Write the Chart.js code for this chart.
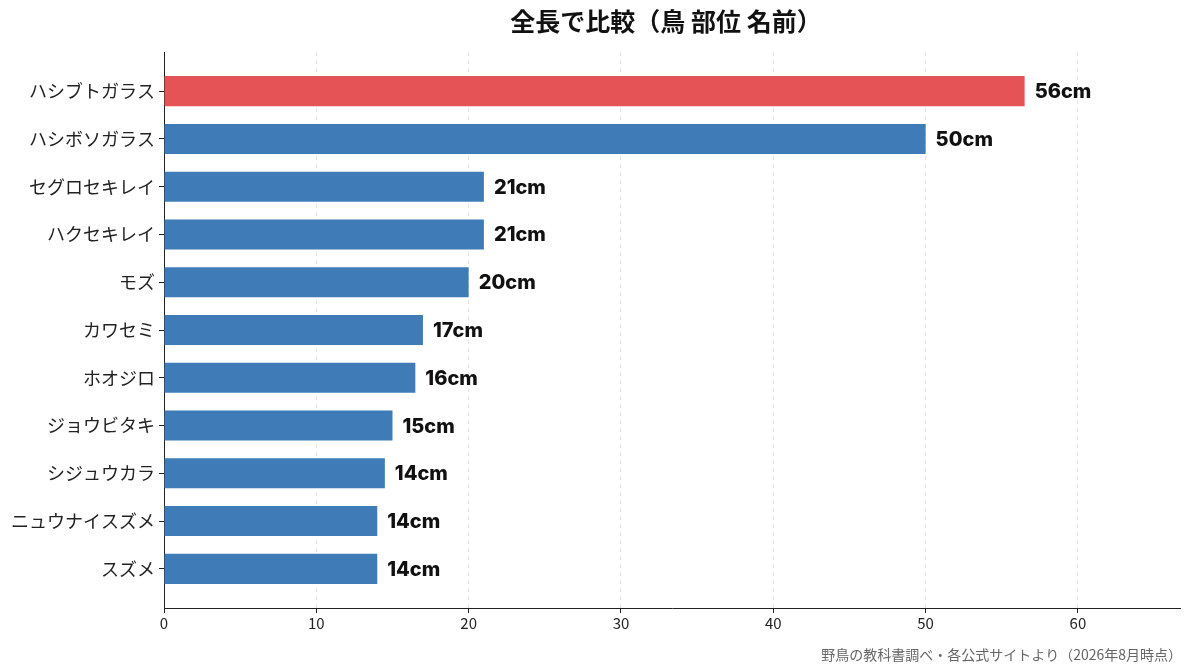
<!DOCTYPE html>
<html>
<head>
<meta charset="utf-8">
<script src="https://cdn.jsdelivr.net/npm/chart.js@4"></script>
<style>
  html, body { margin: 0; padding: 0; background: #fff; }
  #wrap { width: 1193px; height: 672px; }
</style>
</head>
<body>
<div id="wrap"><canvas id="myChart"></canvas></div>
<script>
const FONT = "'Noto Sans CJK JP', 'Noto Sans', sans-serif";
const NUM_FONT = "Inter, 'Noto Sans CJK JP', sans-serif";
const birds = ["ハシブトガラス", "ハシボソガラス", "セグロセキレイ", "ハクセキレイ", "モズ", "カワセミ", "ホオジロ", "ジョウビタキ", "シジュウカラ", "ニュウナイスズメ", "スズメ"];
const lengths = [56.5, 50, 21, 21, 20, 17, 16.5, 15, 14.5, 14, 14];
const valueLabels = ["56cm", "50cm", "21cm", "21cm", "20cm", "17cm", "16cm", "15cm", "14cm", "14cm", "14cm"];
const highlight = "ハシブトガラス";
const xTicks = [0, 10, 20, 30, 40, 50, 60];
const TITLE = "全長で比較（鳥 部位 名前）";
const SOURCE = "野鳥の教科書調べ・各公式サイトより（2026年8月時点）";

const ctx = document.getElementById("myChart");

// title over the plot area, value labels at the bar ends, source note
const textPlugin = {
  id: "texts",
  afterDatasetsDraw(chart) {
    const c = chart.ctx;
    const area = chart.chartArea;
    const meta = chart.getDatasetMeta(0);
    c.save();
    c.textBaseline = "middle";
    c.font = "bold 25px " + FONT;
    c.fillStyle = "#111";
    c.textAlign = "center";
    c.fillText(TITLE, (area.left + area.right) / 2 - 6, 21);

    c.font = "800 20px " + NUM_FONT;
    c.textAlign = "left";
    meta.data.forEach((bar, i) => {
      c.fillText(valueLabels[i], bar.x + 10, bar.y + 1);
    });

    c.font = "14px " + FONT;
    c.fillStyle = "#666";
    c.textAlign = "right";
    c.fillText(SOURCE, 1182, 655);
    c.restore();
  },
};

let myChart = new Chart(ctx, {
  type: "bar",
  data: {
    datasets: [
      {
        data: lengths.map((v, i) => ({ x: v, y: i })),
        backgroundColor: birds.map((b) => (b == highlight ? "#e55356" : "#3f7bb6")),
        borderWidth: 0,
        barPercentage: 0.63,
        categoryPercentage: 1,
      },
    ],
  },
  options: {
    responsive: true,
    maintainAspectRatio: false,
    animation: false,
    indexAxis: "y",
    layout: { padding: { left: 0, right: 13, top: 52, bottom: 30 } },
    plugins: {
      legend: { display: false },
      tooltip: { enabled: false },
      title: { display: false },
    },
    scales: {
      x: {
        type: "linear",
        min: 0,
        max: 66.7,
        afterBuildTicks: (scale) => {
          scale.ticks = xTicks.map((v) => ({ value: v }));
        },
        afterFit: (scale) => {
          scale.height = 34;
        },
        ticks: {
          color: "#222",
          font: { family: FONT, size: 15 },
          padding: 1,
        },
        grid: {
          color: "rgba(0,0,0,0.1)",
          tickColor: "#222",
          tickLength: 5,
          offset: false,
        },
        border: { display: true, color: "#222", width: 1, dash: [4, 4] },
      },
      y: {
        type: "linear",
        reverse: true,
        offset: false,
        min: -0.82,
        max: 10.82,
        afterBuildTicks: (scale) => {
          scale.ticks = birds.map((_, i) => ({ value: i }));
        },
        afterFit: (scale) => {
          scale.width = 164;
        },
        ticks: {
          color: "#222",
          font: { family: FONT, size: 18 },
          padding: 4,
          callback: (v) => birds[v],
        },
        grid: {
          drawOnChartArea: false,
          offset: false,
          tickColor: "#222",
          tickLength: 5,
        },
        border: { display: true, color: "#222", width: 1 },
      },
    },
  },
  plugins: [textPlugin],
});
</script>
</body>
</html>
